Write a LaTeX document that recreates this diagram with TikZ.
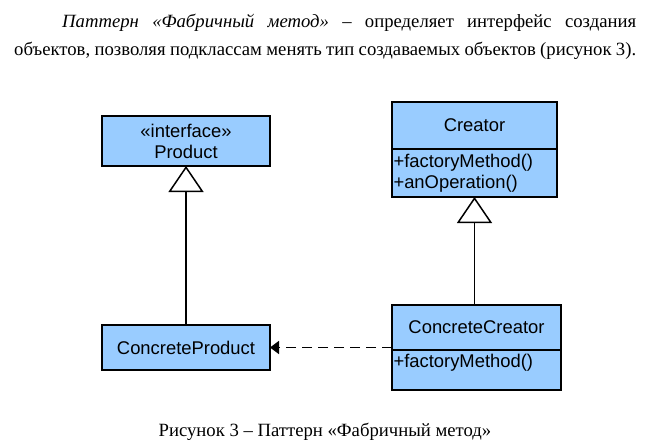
\documentclass[tikz,border=0pt]{standalone}
\usepackage{fontspec}
\setmainfont{Liberation Serif}
\newfontfamily\umlfont{Liberation Sans}
\usetikzlibrary{arrows.meta,positioning}

\definecolor{classblue}{RGB}{153,204,255}

\begin{document}
\begin{tikzpicture}[x=1pt, y=-1pt,
  para/.style={inner sep=0pt, font=\fontsize{18.7}{22}\selectfont},
  umlclass/.style={draw, line width=1.8pt, fill=classblue, outer sep=0pt,
    font=\umlfont\fontsize{18.4}{21}\selectfont, align=center},
  ops/.style={umlclass, align=left, inner xsep=1.5pt},
  inherit/.style={-{Triangle[open, length=26pt, width=35pt, line width=1.5pt]}, line width=1.5pt},
  uses/.style={-{Triangle[length=9pt, width=13pt]}, line width=1.6pt, dash pattern=on 10pt off 6pt}]
  \useasboundingbox (0,0) rectangle (658,445);
  % text around the figure
  \node[para, anchor=base west] (intro1) at (62,27)
    {\makebox[574pt][s]{\textit{Паттерн «Фабричный метод»} – определяет интерфейс создания}};
  \node[para, anchor=base west] (intro2) at (14,55)
    {\makebox[622pt][s]{объектов, позволяя подклассам менять тип создаваемых объектов (рисунок 3).}};
  \node[para, anchor=base] (caption) at (325,436) {Рисунок 3 – Паттерн «Фабричный метод»};
  % product side
  \node[umlclass, minimum width=168pt, minimum height=50pt] (product) at (186,141)
    {«interface»\\Product};
  \node[umlclass, minimum width=168pt, minimum height=45pt] (concreteproduct) at (186,347.5)
    {ConcreteProduct};
  % creator side
  \node[umlclass, minimum width=165pt, minimum height=47pt] (creator) at (474.5,125.5) {Creator};
  \node[ops, below=0pt of creator, text width=162pt, minimum height=48pt] (creatorops)
    {+factoryMethod()\\+anOperation()};
  \node[umlclass, minimum width=169pt, minimum height=45pt] (concretecreator) at (476.5,327.5)
    {ConcreteCreator};
  \node[ops, below=0pt of concretecreator, text width=166pt, text height=14pt, text depth=20pt,
    inner ysep=3pt] (concreteops) {+factoryMethod()};
  % relations
  \draw[inherit] (concreteproduct.north) -- (product.south);
  \draw[inherit] (creatorops.south |- concretecreator.north) -- (creatorops.south);
  \draw[uses] (concreteproduct.east -| concretecreator.west) -- (concreteproduct.east);
\end{tikzpicture}
\end{document}
